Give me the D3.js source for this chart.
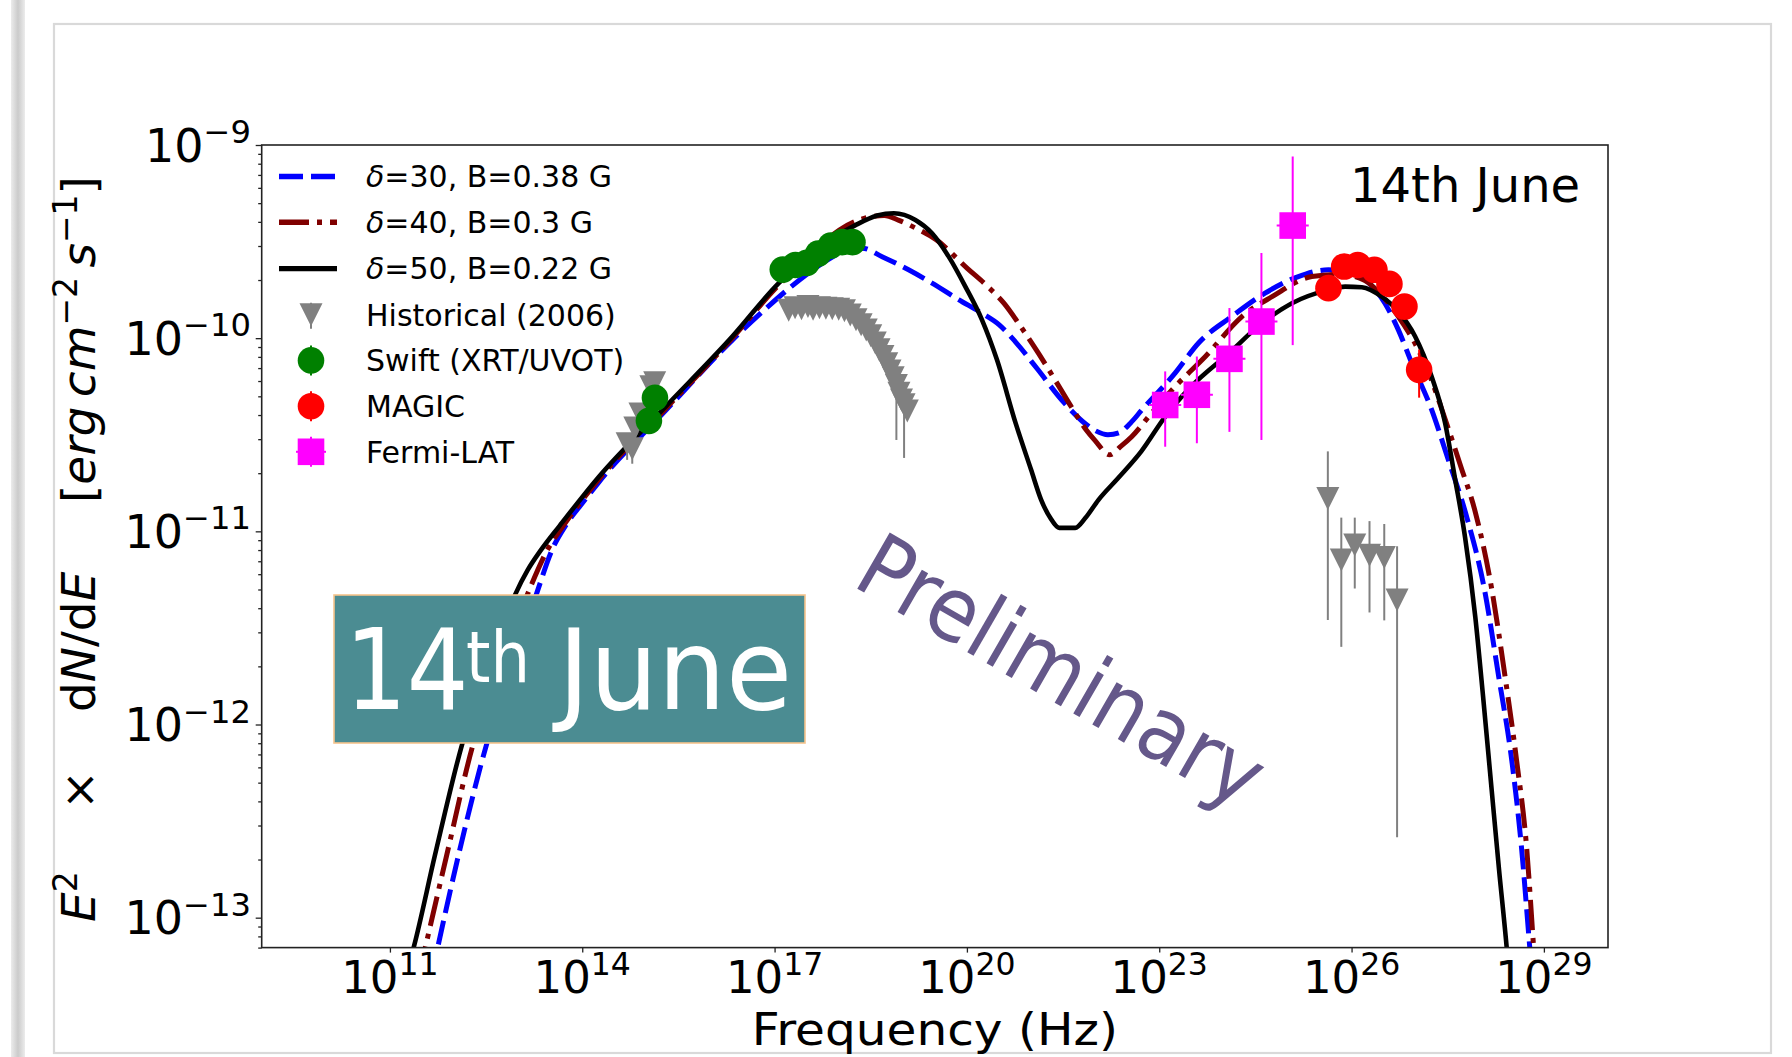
<!DOCTYPE html>
<html>
<head>
<meta charset="utf-8">
<script src="https://cdn.jsdelivr.net/npm/d3@7"></script>
<style>
  html, body { margin: 0; padding: 0; background: #fff; }
  svg { display: block; }
  text { font-family: "DejaVu Sans", sans-serif; }
</style>
</head>
<body>
<svg id="chart" width="1792" height="1057"></svg>
<script>
// ---- Model SEDs: [log10 nu (Hz), log10 E^2 dN/dE (erg cm^-2 s^-1)] ----
const modelD30 = [
  [11.65,-13.30],[11.75,-13.147],[12.07,-12.676],[12.51,-12.10],[12.9,-11.70],[13.28,-11.33],
  [13.53,-11.095],[13.75,-10.965],[14.0,-10.855],[14.26,-10.745],[15.30,-10.375],[16.34,-10.01],
  [16.92,-9.83],[17.5,-9.67],[17.9,-9.58],[18.15,-9.54],[18.365,-9.534],[18.677,-9.578],
  [19.09,-9.646],[19.456,-9.715],[19.87,-9.80],[20.235,-9.871],[20.50,-9.93],[20.76,-10.02],
  [21.1,-10.16],[21.48,-10.32],[21.8,-10.43],[22.01,-10.48],[22.2,-10.50],[22.37,-10.49],
  [22.55,-10.44],[22.73,-10.371],[23.25,-10.18],[23.61,-10.026],[24.13,-9.888],[24.65,-9.767],
  [25.17,-9.681],[25.64,-9.646],[26.0,-9.664],[26.21,-9.698],[26.52,-9.819],[26.73,-9.957],
  [26.94,-10.13],[27.25,-10.371],[27.5,-10.62],[27.8,-10.93],[28.07,-11.296],[28.29,-11.742],
  [28.50,-12.188],[28.65,-12.634],[28.78,-13.155],[28.83,-13.35]
];
const modelD40 = [
  [11.45,-13.30],[11.557,-13.147],[11.886,-12.676],[12.30,-12.10],[12.72,-11.70],[13.14,-11.33],
  [13.45,-11.10],[13.75,-10.95],[14.26,-10.73],[15.30,-10.365],[16.34,-10.0],[17.065,-9.725],
  [17.5,-9.59],[18.01,-9.44],[18.3,-9.39],[18.52,-9.37],[18.71,-9.365],[18.94,-9.39],
  [19.2,-9.43],[19.52,-9.49],[20.01,-9.64],[20.3,-9.725],[20.58,-9.82],[20.85,-9.945],
  [21.12,-10.08],[21.4,-10.23],[21.65,-10.367],[21.85,-10.47],
  [22.0,-10.53],[22.225,-10.604],[22.40,-10.56],[22.57,-10.51],[22.9,-10.38],[23.25,-10.25],
  [23.72,-10.095],[24.29,-9.888],[24.76,-9.785],[25.38,-9.681],[25.84,-9.67],[26.2,-9.70],
  [26.5,-9.79],[26.73,-9.888],[27.04,-10.06],[27.25,-10.22],[27.46,-10.42],[27.70,-10.66],
  [27.93,-10.90],[28.185,-11.296],[28.39,-11.742],[28.575,-12.188],[28.73,-12.634],
  [28.84,-13.155],[28.88,-13.35]
];
const modelD50 = [
  [11.25,-13.30],[11.376,-13.147],[11.703,-12.676],[12.124,-12.105],[12.55,-11.68],[12.95,-11.33],
  [13.15,-11.20],[13.36,-11.095],[13.65,-10.97],[14.26,-10.717],[15.30,-10.354],[16.34,-9.992],
  [17.065,-9.715],[17.5,-9.585],[18.0,-9.465],[18.262,-9.415],[18.6,-9.365],[18.86,-9.353],
  [19.197,-9.388],[19.456,-9.457],[19.716,-9.578],[19.976,-9.733],[20.235,-9.905],[20.469,-10.112],
  [20.76,-10.44],[21.0,-10.68],[21.155,-10.834],[21.30,-10.93],[21.44,-10.982],[21.69,-10.982],
  [21.85,-10.93],[22.05,-10.838],[22.36,-10.724],[22.72,-10.586],[23.093,-10.406],[23.5,-10.25],
  [24.08,-10.08],[24.60,-9.923],[25.07,-9.819],[25.64,-9.75],[25.90,-9.733],[26.16,-9.736],
  [26.47,-9.785],[26.73,-9.862],[26.99,-9.99],[27.25,-10.2],[27.46,-10.44],[27.61,-10.72],
  [27.77,-11.03],[27.93,-11.443],[28.05,-11.85],[28.185,-12.337],[28.30,-12.75],[28.42,-13.155],
  [28.47,-13.35]
];

// ---- Measurements: [log10 nu, log10 flux, log10 lower, log10 upper] (null = no bar) ----
const historical = [
  // optical / UV
  [14.70,-10.547,-10.63,null],[14.78,-10.573,-10.65,null],[14.82,-10.465,null,null],
  [14.90,-10.392,null,null],[15.07,-10.252,null,null],[15.13,-10.231,null,null],
  // X-ray
  [17.22,-9.855,null,null],[17.32,-9.843,null,null],[17.42,-9.848,null,null],[17.52,-9.836,null,null],
  [17.60,-9.850,null,null],[17.70,-9.843,null,null],[17.80,-9.845,null,null],[17.90,-9.848,null,null],
  [18.00,-9.850,null,null],[18.09,-9.858,null,null],[18.18,-9.880,null,null],[18.27,-9.905,null,null],
  [18.35,-9.930,null,null],[18.43,-9.958,null,null],[18.50,-9.988,null,null],[18.57,-10.025,null,null],
  [18.63,-10.060,null,null],[18.69,-10.095,null,null],[18.75,-10.133,null,null],[18.80,-10.170,null,null],
  [18.85,-10.205,null,null],[18.90,-10.245,-10.527,null],[18.94,-10.285,null,null],
  [18.98,-10.320,null,null],[19.02,-10.345,-10.62,null],[19.07,-10.377,null,null],
  // very high energy
  [25.63,-10.830,-11.459,-10.586],[25.84,-11.148,-11.598,-10.929],[26.05,-11.071,-11.296,-10.929],
  [26.28,-11.124,-11.420,-10.947],[26.51,-11.136,-11.461,-10.962],[26.71,-11.355,-12.583,-11.077]
];
const swift = [
  [15.134,-10.309,null,null],[15.040,-10.428,null,null],
  [17.128,-9.645,null,null],[17.325,-9.621,null,null],[17.502,-9.610,null,null],
  [17.680,-9.562,null,null],[17.877,-9.521,null,null],[18.054,-9.503,null,null],[18.215,-9.503,null,null]
];
const magic = [
  [25.640,-9.741,-9.790,-9.695],[25.885,-9.629,-9.675,-9.585],[26.097,-9.621,-9.665,-9.578],
  [26.357,-9.646,-9.692,-9.600],[26.591,-9.719,-9.775,-9.668],[26.825,-9.836,-9.905,-9.775],
  [27.054,-10.164,-10.308,-10.059]
];
const fermi = [
  [23.093,-10.346,-10.562,-10.172],[23.587,-10.293,-10.544,-10.095],
  [24.095,-10.107,-10.485,-9.844],[24.594,-9.914,-10.527,-9.559],[25.082,-9.417,-10.036,-9.059]
];
const fermiHalfWidth = 0.25; // log10 nu bin half-width

// ---- Axes ticks and labels ----
const xTickExponents = [11, 14, 17, 20, 23, 26, 29];
const yTickExponents = [-9, -10, -11, -12, -13];
const legendLabels = ["δ=30, B=0.38 G", "δ=40, B=0.3 G", "δ=50, B=0.22 G",
                      "Historical (2006)", "Swift (XRT/UVOT)", "MAGIC", "Fermi-LAT"];

// ---- Layout ----
const svg = d3.select("#chart");
const plot = { left: 261.7, right: 1608, top: 145, bottom: 947.6 };
const x = d3.scaleLog().domain([1e9, 1e30]).range([plot.left, plot.right]);
const y = d3.scaleLog().domain([7e-14, 1e-9]).range([plot.bottom, plot.top]);
const X = L => x(Math.pow(10, L));
const Y = L => y(Math.pow(10, L));

// page frame and shadow strip
const defs = svg.append("defs");
const grad = defs.append("linearGradient").attr("id", "shade").attr("x1", 0).attr("x2", 1).attr("y1", 0).attr("y2", 0);
grad.append("stop").attr("offset", "0%").attr("stop-color", "#ececec");
grad.append("stop").attr("offset", "50%").attr("stop-color", "#cbcbcb");
grad.append("stop").attr("offset", "100%").attr("stop-color", "#ececec");
svg.append("rect").attr("x", 11).attr("y", 0).attr("width", 14).attr("height", 1057).attr("fill", "url(#shade)");
svg.append("rect").attr("x", 54).attr("y", 24).attr("width", 1717).attr("height", 1029)
   .attr("fill", "none").attr("stroke", "#d9d9d9").attr("stroke-width", 2.2);

defs.append("clipPath").attr("id", "plotClip").append("rect")
  .attr("x", plot.left).attr("y", plot.top)
  .attr("width", plot.right - plot.left).attr("height", plot.bottom - plot.top);

// ---- Ticks ----
const tickColor = "#222";
const yMinor = [];
for (let e = -14; e <= -10; e++) for (let m = 2; m <= 9; m++) {
  const v = m * Math.pow(10, e);
  if (v >= 7e-14 && v <= 1e-9) yMinor.push(v);
}
const styleAxis = g => {
  g.select(".domain").remove();
  g.selectAll(".tick line").attr("stroke", tickColor).attr("stroke-width", 1.3);
};
svg.append("g").attr("transform", `translate(${plot.left},0)`)
  .call(d3.axisLeft(y).tickValues(yTickExponents.map(e => Math.pow(10, e))).tickSize(6).tickFormat(""))
  .call(styleAxis);
svg.append("g").attr("transform", `translate(${plot.left},0)`)
  .call(d3.axisLeft(y).tickValues(yMinor).tickSize(3.5).tickFormat(""))
  .call(styleAxis);
svg.append("g").attr("transform", `translate(0,${plot.bottom})`)
  .call(d3.axisBottom(x).tickValues(xTickExponents.map(e => Math.pow(10, e))).tickSize(5).tickFormat(""))
  .call(styleAxis);

function powerLabel(px, py, exp, anchor, size) {
  const t = svg.append("text").attr("x", px).attr("y", py).attr("text-anchor", anchor)
    .attr("font-size", size).attr("fill", "#000");
  t.append("tspan").text("10");
  t.append("tspan").attr("font-size", size * 0.7).attr("dy", -size * 0.4)
    .text(exp < 0 ? "\u2212" + (-exp) : String(exp));
}
yTickExponents.forEach(e => powerLabel(251, Y(e) + 16.5, e, "end", 46));
xTickExponents.forEach(e => powerLabel(X(e), 993, e, "middle", 45));

// axis titles
svg.append("text").attr("x", (plot.left + plot.right) / 2).attr("y", 1045)
  .attr("text-anchor", "middle").attr("font-size", 44)
  .attr("textLength", 366).attr("lengthAdjust", "spacingAndGlyphs").text("Frequency (Hz)");

const ylab = svg.append("g").attr("transform", "rotate(-90)").attr("font-size", 47);
const base = 95;
{
  const t = ylab.append("text").attr("x", -922).attr("y", base);
  t.append("tspan").attr("font-style", "italic").text("E");
  t.append("tspan").attr("font-size", 33).attr("dy", -18).text("2");
}
ylab.append("text").attr("x", -790).attr("y", base).attr("text-anchor", "middle").text("×");
{
  const t = ylab.append("text").attr("x", -712).attr("y", base);
  t.append("tspan").text("d");
  t.append("tspan").attr("font-style", "italic").text("N");
  t.append("tspan").text("/d");
  t.append("tspan").attr("font-style", "italic").text("E");
}
{
  const t = ylab.append("text").attr("x", -503).attr("y", base);
  t.append("tspan").text("[");
  t.append("tspan").attr("font-style", "italic").text("erg\u2009cm");
  t.append("tspan").attr("font-size", 33).attr("dy", -18).text("\u22122");
  t.append("tspan").attr("dy", 18).attr("font-style", "italic").text("\u2009s");
  t.append("tspan").attr("font-size", 33).attr("dy", -18).text("\u22121");
  t.append("tspan").attr("dy", 18).text("]");
}

// ---- Model curves ----
const line = d3.line().x(d => X(d[0])).y(d => Y(d[1])).curve(d3.curveMonotoneX);
const curves = svg.append("g").attr("clip-path", "url(#plotClip)");
const modelStyles = [
  { data: modelD30, color: "#0000ff", dash: "24,8", width: 5 },
  { data: modelD40, color: "#800000", dash: "30,8,5,8", width: 5 },
  { data: modelD50, color: "#000000", dash: null, width: 4.6 }
];
modelStyles.forEach(s => {
  curves.append("path").attr("d", line(s.data)).attr("fill", "none")
    .attr("stroke", s.color).attr("stroke-width", s.width)
    .attr("stroke-dasharray", s.dash);
});

// ---- Measurements ----
const triPath = "M-11.5,-11.5L11.5,-11.5L0,11.5Z";
const pts = svg.append("g").attr("clip-path", "url(#plotClip)");
function errBars(g, data, color) {
  data.filter(d => d[2] !== null || d[3] !== null).forEach(d => {
    g.append("line").attr("x1", X(d[0])).attr("x2", X(d[0]))
      .attr("y1", Y(d[2] !== null ? d[2] : d[1])).attr("y2", Y(d[3] !== null ? d[3] : d[1]))
      .attr("stroke", color).attr("stroke-width", 2);
  });
}
// historical
errBars(pts, historical, "#808080");
pts.selectAll(".hist").data(historical).join("path")
  .attr("transform", d => `translate(${X(d[0])},${Y(d[1])})`)
  .attr("d", triPath).attr("fill", "#808080");
// swift
pts.selectAll(".swift").data(swift).join("circle")
  .attr("cx", d => X(d[0])).attr("cy", d => Y(d[1])).attr("r", 13.3).attr("fill", "#008000");
// MAGIC
errBars(pts, magic, "#ff0000");
pts.selectAll(".magic").data(magic).join("circle")
  .attr("cx", d => X(d[0])).attr("cy", d => Y(d[1])).attr("r", 13.3).attr("fill", "#ff0000");
// Fermi-LAT
errBars(pts, fermi, "#ff00ff");
fermi.forEach(d => {
  pts.append("line").attr("x1", X(d[0] - fermiHalfWidth)).attr("x2", X(d[0] + fermiHalfWidth))
    .attr("y1", Y(d[1])).attr("y2", Y(d[1])).attr("stroke", "#ff00ff").attr("stroke-width", 2);
});
pts.selectAll(".fermi").data(fermi).join("rect")
  .attr("x", d => X(d[0]) - 13.3).attr("y", d => Y(d[1]) - 13.3)
  .attr("width", 26.6).attr("height", 26.6).attr("fill", "#ff00ff");

// ---- Frame ----
svg.append("rect").attr("x", plot.left).attr("y", plot.top)
  .attr("width", plot.right - plot.left).attr("height", plot.bottom - plot.top)
  .attr("fill", "none").attr("stroke", tickColor).attr("stroke-width", 1.6);

// ---- Legend ----
const legend = svg.append("g");
const legY = [176.5, 222.3, 268.6, 314.8, 360.4, 406.2, 451.8];
const hx0 = 279, hx1 = 337, hxc = 311;
modelStyles.forEach((s, i) => {
  legend.append("line").attr("x1", hx0).attr("x2", hx1).attr("y1", legY[i]).attr("y2", legY[i])
    .attr("stroke", s.color).attr("stroke-width", s.width + 0.6).attr("stroke-dasharray", s.dash);
});
legend.append("line").attr("x1", hxc).attr("x2", hxc).attr("y1", legY[3] - 12).attr("y2", legY[3] + 14)
  .attr("stroke", "#808080").attr("stroke-width", 2);
legend.append("path").attr("transform", `translate(${hxc},${legY[3]})`).attr("d", triPath).attr("fill", "#808080");
[[4, "#008000"], [5, "#ff0000"]].forEach(([i, c]) => {
  legend.append("line").attr("x1", hxc).attr("x2", hxc).attr("y1", legY[i] - 15).attr("y2", legY[i] + 15)
    .attr("stroke", c).attr("stroke-width", 2);
  legend.append("circle").attr("cx", hxc).attr("cy", legY[i]).attr("r", 13.3).attr("fill", c);
});
legend.append("line").attr("x1", hxc).attr("x2", hxc).attr("y1", legY[6] - 15).attr("y2", legY[6] + 15)
  .attr("stroke", "#ff00ff").attr("stroke-width", 2);
legend.append("line").attr("x1", hxc - 15).attr("x2", hxc + 15).attr("y1", legY[6]).attr("y2", legY[6])
  .attr("stroke", "#ff00ff").attr("stroke-width", 2);
legend.append("rect").attr("x", hxc - 13.3).attr("y", legY[6] - 13.3).attr("width", 26.6).attr("height", 26.6)
  .attr("fill", "#ff00ff");
legendLabels.forEach((lab, i) => {
  const t = legend.append("text").attr("x", 366).attr("y", legY[i] + 10.8).attr("font-size", 30);
  if (lab.startsWith("δ")) {
    t.append("tspan").attr("font-style", "italic").text("δ");
    t.append("tspan").text(lab.slice(1));
  } else {
    t.text(lab);
  }
});

// ---- Annotations ----
svg.append("text").attr("x", 1350).attr("y", 201.7).attr("font-size", 48).text("14th June");

const tag = svg.append("g").attr("font-family", "'Noto Sans', sans-serif").attr("fill", "#fff");
tag.append("rect").attr("x", 334).attr("y", 595).attr("width", 471).attr("height", 148)
  .attr("fill", "#4b8c92").attr("stroke", "#f5c48c").attr("stroke-width", 1.6);
tag.append("text").attr("transform", "translate(345,709) scale(0.86,1)").attr("font-size", 113).text("14");
tag.append("text").attr("x", 466).attr("y", 681.7).attr("font-size", 72)
  .attr("textLength", 64).attr("lengthAdjust", "spacingAndGlyphs").text("th");
tag.append("text").attr("x", 558).attr("y", 709).attr("font-size", 113)
  .attr("textLength", 234).attr("lengthAdjust", "spacingAndGlyphs").text("June");

svg.append("text").attr("transform", "translate(850.6,584.8) rotate(30)")
  .attr("font-family", "'Liberation Sans', Arial, sans-serif").attr("font-size", 89)
  .attr("textLength", 452).attr("lengthAdjust", "spacingAndGlyphs")
  .attr("fill", "#65588a").text("Preliminary");
</script>
</body>
</html>
